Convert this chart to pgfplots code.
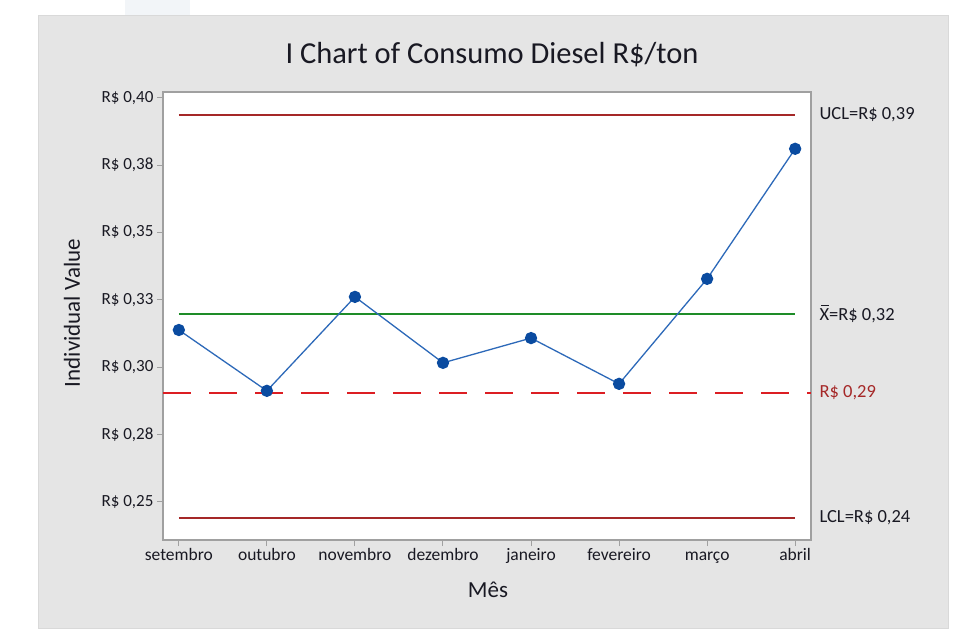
\documentclass[border=0pt]{standalone}
\usepackage{fontspec}
\setmainfont{Carlito}
\usepackage{pgfplots}
\pgfplotsset{compat=1.18}
\definecolor{panel}{RGB}{229,229,229}
\definecolor{framegray}{RGB}{160,160,160}
\definecolor{uclred}{RGB}{165,40,40}
\definecolor{avggreen}{RGB}{30,140,40}
\definecolor{dashred}{RGB}{220,30,35}
\definecolor{lineblue}{RGB}{45,105,185}
\definecolor{markblue}{RGB}{10,75,160}
\definecolor{txt}{RGB}{25,25,35}
\definecolor{faint}{RGB}{242,245,248}
\begin{document}
\begin{tikzpicture}[x=1pt,y=1pt]
\path[use as bounding box] (0,0) rectangle (955,632);
\fill[white] (0,0) rectangle (955,632);
\fill[faint] (125,617) rectangle (190,632);
\fill[panel, draw=black!15, line width=0.8pt] (38,4) rectangle (948,617);
\begin{axis}[
  at={(163pt,92pt)}, anchor=south west,
  width=648pt, height=448pt, scale only axis,
  xmin=-0.18, xmax=7.18, ymin=0.2358, ymax=0.4022,
  axis background/.style={fill=white},
  axis line style={draw=framegray, line width=1.5pt},
  xtick={0,1,2,3,4,5,6,7},
  xticklabels={setembro,outubro,novembro,dezembro,janeiro,fevereiro,março,abril},
  ytick={0.25,0.275,0.3,0.325,0.35,0.375,0.4},
  yticklabels={{R\$ 0,25},{R\$ 0,28},{R\$ 0,30},{R\$ 0,33},{R\$ 0,35},{R\$ 0,38},{R\$ 0,40}},
  tick align=outside, tick pos=left,
  major tick length=6pt,
  tick style={draw=framegray, line width=1pt},
  xticklabel style={font=\fontsize{17.5}{17.5}\selectfont, text=txt, text height=1.5ex, text depth=0.45ex, yshift=-4pt},
  yticklabel style={font=\fontsize{17}{17}\selectfont, text=txt},
  clip=false,
]
\addplot[draw=uclred, line width=1.3pt] coordinates {(0,0.3937) (7,0.3937)};
\addplot[draw=uclred, line width=1.3pt] coordinates {(0,0.2440) (7,0.2440)};
\addplot[draw=avggreen, line width=1.4pt] coordinates {(0,0.3198) (7,0.3198)};
\addplot[draw=dashred, line width=1.6pt, dash pattern=on 28pt off 18pt] coordinates {(-0.18,0.2904) (7.18,0.2904)};
\addplot[draw=lineblue, line width=1.3pt, mark=*, mark size=5.5pt, mark options={fill=markblue, draw=markblue, solid}]
  coordinates {(0,0.3138) (1,0.2912) (2,0.3261) (3,0.3016) (4,0.3108) (5,0.2938) (6,0.3328) (7,0.3811)};
\node[anchor=west, font=\fontsize{18.5}{18.5}\selectfont, text=txt, xshift=5pt] at (axis cs:7.18,0.3937) {UCL=R\$ 0,39};
\node[anchor=west, font=\fontsize{18.5}{18.5}\selectfont, text=txt, xshift=5pt] at (axis cs:7.18,0.3198) {\rlap{\kern0.08em\raisebox{0.78em}{\rule{0.42em}{0.07em}}}X=R\$ 0,32};
\node[anchor=west, font=\fontsize{18.5}{18.5}\selectfont, text=uclred, xshift=5pt] at (axis cs:7.18,0.2904) {R\$ 0,29};
\node[anchor=west, font=\fontsize{18.5}{18.5}\selectfont, text=txt, xshift=5pt] at (axis cs:7.18,0.2440) {LCL=R\$ 0,24};
\end{axis}
\node[font=\fontsize{30.5}{30.5}\selectfont, text=txt] at (492,577) {I Chart of Consumo Diesel R\$/ton};
\node[font=\fontsize{23}{23}\selectfont, text=txt] at (488,42) {Mês};
\node[font=\fontsize{23}{23}\selectfont, text=txt, rotate=90] at (72,319) {Individual Value};
\end{tikzpicture}
\end{document}
